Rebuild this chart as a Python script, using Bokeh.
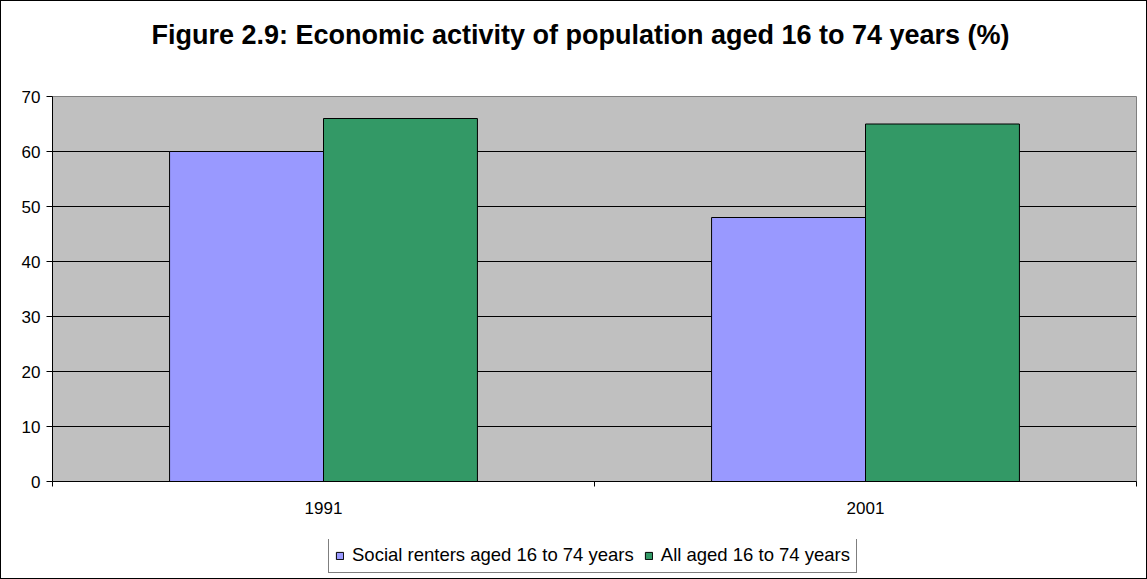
from bokeh.plotting import figure
from bokeh.layouts import column
from bokeh.models import (Range1d, FixedTicker, Legend, LegendItem, Label,
                          ColumnDataSource)
from bokeh.embed import file_html
from bokeh.resources import INLINE

title = "Figure 2.9: Economic activity of population aged 16 to 74 years (%)"
years = ["1991", "2001"]
social = [60, 48]
all_aged = [66, 65]
series_names = ["Social renters aged 16 to 74 years", "All aged 16 to 74 years"]
colors = ["#9999FF", "#339966"]
y_ticks = [0, 10, 20, 30, 40, 50, 60, 70]

FONT = "Liberation Sans"
W = 1145
H0, H1, H2 = 85, 453, 39
BL, BR = 51, 10

# title strip
p0 = figure(width=W, height=H0, output_backend="svg", toolbar_location=None,
            x_axis_type=None, y_axis_type=None,
            x_range=Range1d(0, W - BL - BR), y_range=Range1d(0, H0),
            min_border_left=BL, min_border_right=BR, min_border_top=0,
            min_border_bottom=0)
p0.outline_line_color = None
p0.grid.visible = False
p0.background_fill_color = "white"
p0.border_fill_color = "white"
p0.add_layout(Label(x=528, y=H0 - 33.5, text=title, text_align="center",
                    text_baseline="middle", text_font=FONT,
                    text_font_size="27px", text_font_style="bold",
                    text_color="black"))

# main chart
p = figure(width=W, height=H1, output_backend="svg", toolbar_location=None,
           x_range=Range1d(0, len(years)), y_range=Range1d(0, 70),
           min_border_left=BL, min_border_right=BR, min_border_top=10,
           min_border_bottom=58)
p.background_fill_color = "#C0C0C0"
p.border_fill_color = "white"
p.outline_line_color = "#808080"
p.outline_line_width = 1

centers = [i + 0.5 for i in range(len(years))]
bw = 0.284
src = ColumnDataSource(dict(
    xs=[c - bw / 2 for c in centers], xa=[c + bw / 2 for c in centers],
    social=social, all_aged=all_aged))
p.vbar(x="xs", top="social", width=bw, source=src, fill_color=colors[0],
       line_color="black", line_width=1)
p.vbar(x="xa", top="all_aged", width=bw, source=src, fill_color=colors[1],
       line_color="black", line_width=1)

# axes
p.xgrid.visible = False
p.ygrid.grid_line_color = "black"
p.ygrid.grid_line_width = 1
p.yaxis.ticker = FixedTicker(ticks=y_ticks)
p.yaxis.minor_tick_line_color = None
p.yaxis.major_tick_out = 6
p.yaxis.major_tick_in = 0
p.yaxis.major_label_standoff = 6
p.yaxis.axis_line_color = "black"
p.yaxis.major_label_text_font = FONT
p.yaxis.major_label_text_font_size = "17px"
p.yaxis.major_label_text_color = "black"

p.xaxis.ticker = FixedTicker(ticks=centers,
                             minor_ticks=list(range(len(years) + 1)))
p.xaxis.major_label_overrides = {c: y for c, y in zip(centers, years)}
p.xaxis.major_tick_out = 0
p.xaxis.major_tick_in = 0
p.xaxis.minor_tick_out = 5
p.xaxis.minor_tick_in = 0
p.xaxis.minor_tick_line_color = "black"
p.xaxis.major_label_standoff = 15
p.xaxis.axis_line_color = "black"
p.xaxis.major_label_text_font = FONT
p.xaxis.major_label_text_font_size = "17px"
p.xaxis.major_label_text_color = "black"

# legend strip (separate figure so the legend is not clipped)
p2 = figure(width=W, height=H2, output_backend="svg", toolbar_location=None,
            x_axis_type=None, y_axis_type=None,
            x_range=Range1d(0, len(years)), y_range=Range1d(1000, 1001),
            min_border_left=BL, min_border_right=BR, min_border_top=0,
            min_border_bottom=0)
p2.outline_line_color = None
p2.grid.visible = False
p2.background_fill_color = "white"
l1 = p2.vbar(x="xs", top="social", width=bw, source=src, fill_color=colors[0],
             line_color="black", line_width=1)
l2 = p2.vbar(x="xa", top="all_aged", width=bw, source=src,
             fill_color=colors[1], line_color="black", line_width=1)
legend = Legend(items=[LegendItem(label=series_names[0], renderers=[l1]),
                       LegendItem(label=series_names[1], renderers=[l2])],
                orientation="horizontal", location=(276, 5),
                label_text_font=FONT, label_text_font_size="18.5px",
                label_text_color="black", glyph_width=9, glyph_height=9,
                label_standoff=8, spacing=10, padding=6, margin=0,
                border_line_color="black", border_line_width=1,
                background_fill_color="white", background_fill_alpha=1,
                label_height=21)
p2.add_layout(legend, "center")

layout = column(p0, p, p2, spacing=0, styles={"border": "1px solid black"})

open("out.html", "w").write(file_html(layout, INLINE))
